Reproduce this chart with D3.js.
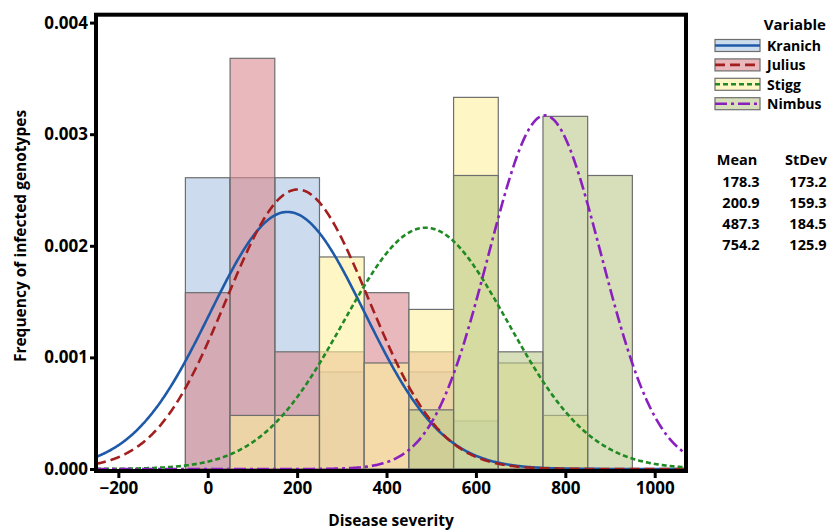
<!DOCTYPE html>
<html>
<head>
<meta charset="utf-8">
<script src="https://cdn.jsdelivr.net/npm/d3@7"></script>
<style>
  body { margin: 0; background: #fff; }
  svg { display: block; font-family: "Open Sans", sans-serif; font-weight: bold; }
</style>
</head>
<body>
<svg id="chart" width="833" height="532"></svg>
<script>
// *******************
// Data
// *******************

// histogram bins are 100 wide, centred on these values
const binCenters = [0, 100, 200, 300, 400, 500, 600, 700, 800, 900];

const varieties = ["Kranich", "Julius", "Stigg", "Nimbus"];

// bar heights (frequency density) per bin
const kranichFreq = [0.00261, 0.00261, 0.00261, 0.00087, 0, 0.00087, 0.00043, 0, 0, 0];
const juliusFreq = [0.00158, 0.00368, 0.00105, 0.00105, 0.00158, 0.00105, 0, 0, 0, 0];
const stiggFreq = [0, 0.00048, 0.00048, 0.0019, 0.00095, 0.00143, 0.00333, 0.00095, 0.00048, 0];
const nimbusFreq = [0, 0, 0, 0, 0, 0.00053, 0.00263, 0.00105, 0.00316, 0.00263];

// fitted normal parameters (table on the right)
const means = [178.3, 200.9, 487.3, 754.2];
const stDevs = [173.2, 159.3, 184.5, 125.9];

const xTicks = [-200, 0, 200, 400, 600, 800, 1000];
const yTicks = [0, 0.001, 0.002, 0.003, 0.004];

// *******************
// Styles
// *******************
const FILLS = ["#aac5e3", "#d9898f", "#fdf09d", "#bbca8c"];
const FILL_OPACITY = 0.6;
const LINE_COLORS = ["#1f5aa8", "#a31f1f", "#1f8a24", "#8a1fbf"];
const DASHES = [null, "10,5", "5,3", "12,4,3,4"];

const FRAME = { LEFT: 96, RIGHT: 686, TOP: 14.7, BOTTOM: 471 };

const svg = d3.select("#chart");

const x = d3.scaleLinear().domain([-250, 1070]).range([FRAME.LEFT, FRAME.RIGHT]);
const y = d3.scaleLinear().domain([0, 0.004]).range([469, 22.6]);

const freqs = [kranichFreq, juliusFreq, stiggFreq, nimbusFreq];
const series = varieties.map((name, i) => ({
  name,
  bars: binCenters.map((c, j) => ({ c, v: freqs[i][j] })).filter((d) => d.v > 0),
  mean: means[i],
  sd: stDevs[i],
  fill: FILLS[i],
  color: LINE_COLORS[i],
  dash: DASHES[i],
}));

svg
  .append("clipPath")
  .attr("id", "plot-clip")
  .append("rect")
  .attr("x", FRAME.LEFT)
  .attr("y", FRAME.TOP)
  .attr("width", FRAME.RIGHT - FRAME.LEFT)
  .attr("height", FRAME.BOTTOM - FRAME.TOP);

const plot = svg.append("g").attr("clip-path", "url(#plot-clip)");

// histogram bars, one layer per variety, drawn translucent on top of each other
series.forEach((s) => {
  plot
    .append("g")
    .selectAll("rect")
    .data(s.bars)
    .join("rect")
    .attr("x", (d) => x(d.c - 50))
    .attr("width", (d) => x(d.c + 50) - x(d.c - 50))
    .attr("y", (d) => y(d.v))
    .attr("height", (d) => y(0) - y(d.v))
    .attr("fill", s.fill)
    .attr("fill-opacity", FILL_OPACITY)
    .attr("stroke", "#6e6e6e")
    .attr("stroke-width", 1.2);
});

// fitted normal density curves
const normalPdf = (v, m, sd) =>
  Math.exp(-0.5 * ((v - m) / sd) ** 2) / (sd * Math.sqrt(2 * Math.PI));

const line = d3
  .line()
  .x((d) => x(d[0]))
  .y((d) => y(d[1]));

const xs = d3.range(x.domain()[0], x.domain()[1] + 1, 2);

series.forEach((s) => {
  plot
    .append("path")
    .datum(xs.map((v) => [v, normalPdf(v, s.mean, s.sd)]))
    .attr("d", line)
    .attr("fill", "none")
    .attr("stroke", s.color)
    .attr("stroke-width", 2.6)
    .attr("stroke-dasharray", s.dash);
});

// frame
svg
  .append("rect")
  .attr("x", FRAME.LEFT)
  .attr("y", FRAME.TOP)
  .attr("width", FRAME.RIGHT - FRAME.LEFT)
  .attr("height", FRAME.BOTTOM - FRAME.TOP)
  .attr("fill", "none")
  .attr("stroke", "black")
  .attr("stroke-width", 4);

// axes
const xAxis = svg
  .append("g")
  .attr("transform", `translate(0,${FRAME.BOTTOM})`)
  .call(d3.axisBottom(x).tickValues(xTicks).tickSize(7).tickPadding(4).tickFormat(d3.format("d")));

const yAxis = svg
  .append("g")
  .attr("transform", `translate(${FRAME.LEFT},0)`)
  .call(d3.axisLeft(y).tickValues(yTicks).tickSize(6).tickPadding(2).tickFormat(d3.format(".3f")));

[xAxis, yAxis].forEach((g) => {
  g.select(".domain").remove();
  g.selectAll(".tick line").attr("stroke", "black").attr("stroke-width", 3);
  g.selectAll("text")
    .attr("fill", "black")
    .attr("font-family", "Open Sans, sans-serif")
    .attr("font-weight", "bold")
    .attr("font-size", 17);
});

// axis titles
svg
  .append("text")
  .attr("x", (FRAME.LEFT + FRAME.RIGHT) / 2)
  .attr("y", 526)
  .attr("text-anchor", "middle")
  .attr("font-size", 15.5)
  .text("Disease severity");

svg
  .append("text")
  .attr("transform", `translate(26, 236) rotate(-90)`)
  .attr("text-anchor", "middle")
  .attr("font-size", 15.5)
  .text("Frequency of infected genotypes");

// legend
const legend = svg.append("g");

legend
  .append("text")
  .attr("x", 826)
  .attr("y", 30)
  .attr("text-anchor", "end")
  .attr("font-size", 15)
  .text("Variable");

series.forEach((s, i) => {
  const rowY = 45.5 + i * 19.4;
  legend
    .append("rect")
    .attr("x", 715)
    .attr("y", rowY - 6)
    .attr("width", 45)
    .attr("height", 12)
    .attr("fill", s.fill)
    .attr("fill-opacity", FILL_OPACITY)
    .attr("stroke", "#6e6e6e")
    .attr("stroke-width", 1.2);
  legend
    .append("line")
    .attr("x1", 715)
    .attr("x2", 760)
    .attr("y1", rowY)
    .attr("y2", rowY)
    .attr("stroke", s.color)
    .attr("stroke-width", 2.6)
    .attr("stroke-dasharray", s.dash);
  legend
    .append("text")
    .attr("x", 767)
    .attr("y", rowY + 5.5)
    .attr("font-size", 14)
    .text(s.name);
});

// mean / stdev table
const table = svg.append("g").attr("font-size", 14.5);

table.append("text").attr("x", 737).attr("y", 165).attr("text-anchor", "middle").text("Mean");
table.append("text").attr("x", 806).attr("y", 165).attr("text-anchor", "middle").text("StDev");

series.forEach((s, i) => {
  const rowY = 187 + i * 21;
  table
    .append("text")
    .attr("x", 741)
    .attr("y", rowY)
    .attr("text-anchor", "middle")
    .text(s.mean.toFixed(1));
  table
    .append("text")
    .attr("x", 808)
    .attr("y", rowY)
    .attr("text-anchor", "middle")
    .text(s.sd.toFixed(1));
});
</script>
</body>
</html>
